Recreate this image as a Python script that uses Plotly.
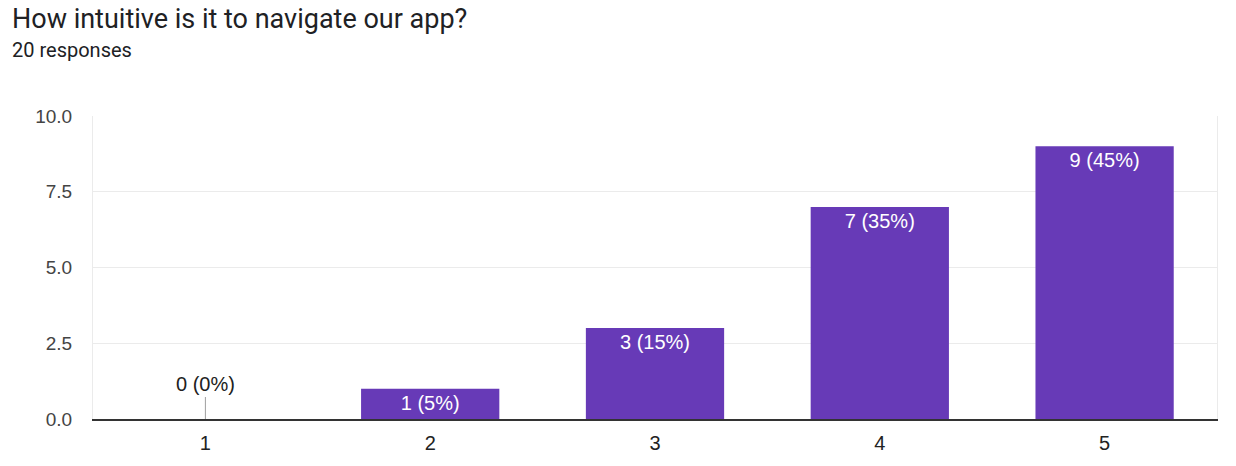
import plotly.graph_objects as go

categories = ["1", "2", "3", "4", "5"]
counts = [0, 1, 3, 7, 9]
percents = [0, 5, 15, 35, 45]
y_ticks = [0, 2.5, 5, 7.5, 10]

title_text = "How intuitive is it to navigate our app?"
subtitle_text = "20 responses"

labels = [f"{c} ({p}%)" for c, p in zip(counts, percents)]
inside_labels = [lab if c > 0 else "" for lab, c in zip(labels, counts)]

TITLE_FONT = "Roboto, Arial, sans-serif"
FONT = "Arial, 'Liberation Sans', sans-serif"
PURPLE = "#673ab7"

W, H = 1236, 466
ML, MR, MT, MB = 93, 19, 116, 45
PW, PH = W - ML - MR, H - MT - MB

fig = go.Figure()
fig.add_trace(go.Bar(
    x=categories,
    y=counts,
    text=inside_labels,
    textposition="inside",
    insidetextanchor="end",
    textangle=0,
    textfont=dict(family=FONT, size=20, color="white"),
    marker=dict(color=PURPLE, line=dict(width=0)),
    width=0.615,
    hoverinfo="skip",
))

# zero-value labels drawn with a short leader line
for i, (c, lab) in enumerate(zip(counts, labels)):
    if c == 0:
        fig.add_annotation(
            x=i, y=c, text=lab, showarrow=True, arrowhead=0,
            arrowwidth=1, arrowcolor="#9e9e9e", ax=0, ay=-22,
            yanchor="bottom", font=dict(family=FONT, size=20, color="#212121"),
        )

fig.add_annotation(
    x=(10 - ML) / PW, y=1 + (MT - 18) / PH, xref="paper", yref="paper",
    text=title_text, showarrow=False, xanchor="left", yanchor="middle",
    font=dict(family=TITLE_FONT, size=27, color="#202124"),
)
fig.add_annotation(
    x=(10 - ML) / PW, y=1 + (MT - 50) / PH, xref="paper", yref="paper",
    text=subtitle_text, showarrow=False, xanchor="left", yanchor="middle",
    font=dict(family=TITLE_FONT, size=20, color="#202124"),
)

fig.update_layout(
    width=W, height=H,
    margin=dict(l=ML, r=MR, t=MT, b=MB),
    plot_bgcolor="white", paper_bgcolor="white",
    showlegend=False,
)

fig.update_xaxes(
    type="category",
    showgrid=False,
    showline=True, linecolor="#333333", linewidth=2,
    ticks="", ticklabelstandoff=5,
    tickfont=dict(family=FONT, size=20, color="#222222"),
    fixedrange=True,
)
fig.update_yaxes(
    range=[0, 10],
    tickvals=y_ticks,
    ticktext=[f"{v:.1f}" for v in y_ticks],
    showgrid=True, gridcolor="#ebebeb", gridwidth=1,
    showline=True, linecolor="#ebebeb", linewidth=1, mirror=True,
    zeroline=False,
    ticks="", ticklabelstandoff=16,
    tickfont=dict(family=FONT, size=19, color="#444444"),
    fixedrange=True,
)

fig.write_html(
    "out.html",
    config={"displayModeBar": False, "staticPlot": True},
    post_script="document.body.style.margin='0';document.body.style.overflow='hidden';",
)
